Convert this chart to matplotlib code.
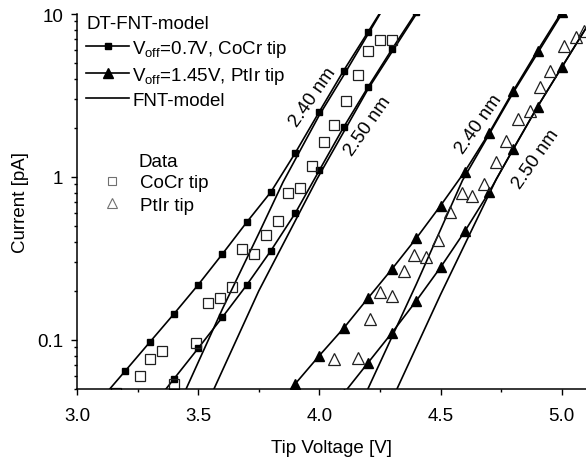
import matplotlib
matplotlib.use("Agg")
import matplotlib.pyplot as plt
from matplotlib.lines import Line2D
from matplotlib.ticker import FixedLocator, NullFormatter

plt.rcParams['font.family'] = ['Liberation Sans', 'DejaVu Sans']
plt.rcParams['mathtext.default'] = 'regular'
plt.rcParams['font.size'] = 13.5

# DT-FNT model, CoCr tip (V_off = 0.7 V)
cocr_v = [3.1, 3.2, 3.3, 3.4, 3.5, 3.6, 3.7, 3.8, 3.9, 4.0, 4.1, 4.2, 4.3]
cocr_240 = [0.0435, 0.0648, 0.0968, 0.1445, 0.218, 0.337, 0.527, 0.809, 1.40, 2.52, 4.49, 7.73, 13.4]
cocr_250_v = [3.3, 3.4, 3.5, 3.6, 3.7, 3.8, 3.9, 4.0, 4.1, 4.2, 4.3, 4.4]
cocr_250 = [0.0374, 0.0577, 0.0889, 0.138, 0.217, 0.353, 0.598, 1.10, 2.02, 3.55, 6.10, 10.3]

# DT-FNT model, PtIr tip (V_off = 1.45 V)
ptir_240_v = [3.8, 3.9, 4.0, 4.1, 4.2, 4.3, 4.4, 4.5, 4.6, 4.7, 4.8, 4.9, 5.0]
ptir_240 = [0.036, 0.0537, 0.0802, 0.118, 0.180, 0.273, 0.421, 0.667, 1.08, 1.86, 3.38, 5.96, 10.3]
ptir_250_v = [4.1, 4.2, 4.3, 4.4, 4.5, 4.6, 4.7, 4.8, 4.9, 5.0, 5.1]
ptir_250 = [0.0469, 0.0722, 0.111, 0.174, 0.279, 0.464, 0.806, 1.49, 2.70, 4.71, 8.2]

# plain FNT model
fnt_cocr_240_v = [3.45, 3.6, 3.75, 3.85, 4.0, 4.1, 4.25]
fnt_cocr_240 = [0.05, 0.155, 0.45, 0.93, 2.4, 4.2, 10.0]
fnt_cocr_250_v = [3.565, 3.75, 3.99, 4.2, 4.4]
fnt_cocr_250 = [0.05, 0.2, 0.97, 3.45, 10.0]
fnt_ptir_240_v = [4.2, 4.4, 4.59, 4.8, 5.0]
fnt_ptir_240 = [0.05, 0.22, 0.95, 3.3, 10.0]
fnt_ptir_250_v = [4.32, 4.5, 4.73, 4.9, 5.1]
fnt_ptir_250 = [0.05, 0.19, 0.97, 2.7, 8.2]

# measured data
data_cocr_v = [3.16, 3.26, 3.30, 3.35, 3.40, 3.49, 3.54, 3.59, 3.64, 3.68, 3.73, 3.78,
               3.83, 3.87, 3.92, 3.97, 4.02, 4.06, 4.11, 4.16, 4.20, 4.25, 4.30]
data_cocr_i = [0.047, 0.0604, 0.0764, 0.0859, 0.0537, 0.0959, 0.169, 0.181, 0.211, 0.361,
               0.337, 0.443, 0.535, 0.797, 0.853, 1.17, 1.65, 2.07, 2.94, 4.22, 5.90, 6.92, 6.92]
data_ptir_v = [4.06, 4.16, 4.21, 4.25, 4.30, 4.35, 4.39, 4.44, 4.49, 4.54, 4.59, 4.63,
               4.68, 4.73, 4.77, 4.82, 4.87, 4.91, 4.95, 5.01, 5.06, 5.09]
data_ptir_i = [0.0764, 0.0776, 0.135, 0.196, 0.185, 0.266, 0.332, 0.321, 0.410, 0.607,
               0.797, 0.759, 0.906, 1.23, 1.67, 2.27, 2.55, 3.55, 4.49, 6.40, 7.19, 7.91]

x_ticks = [3.0, 3.5, 4.0, 4.5, 5.0]
x_labels = ['3.0', '3.5', '4.0', '4.5', '5.0']
y_ticks = [0.1, 1, 10]
y_labels = ['0.1', '1', '10']

fig = plt.figure(figsize=(5.86, 4.6), dpi=100)
ax = fig.add_axes([77 / 586, 1 - 390 / 460, 1 - 77 / 586, 375 / 460])

lw = 1.2
sq = dict(marker='s', ms=5, color='black', lw=lw, mfc='black')
tr = dict(marker='^', ms=6.5, color='black', lw=lw, mfc='black')

ax.plot(cocr_v, cocr_240, **sq)
ax.plot(cocr_250_v, cocr_250, **sq)
ax.plot(ptir_240_v, ptir_240, **tr)
ax.plot(ptir_250_v, ptir_250, markevery=slice(0, -1), **tr)

for v, i in [(fnt_cocr_240_v, fnt_cocr_240), (fnt_cocr_250_v, fnt_cocr_250),
             (fnt_ptir_240_v, fnt_ptir_240), (fnt_ptir_250_v, fnt_ptir_250)]:
    ax.plot(v, i, color='black', lw=lw)

ax.plot(data_cocr_v, data_cocr_i, ls='none', marker='s', ms=7.5, mfc='none',
        mec='#202020', mew=0.9)
ax.plot(data_ptir_v, data_ptir_i, ls='none', marker='^', ms=9, mfc='none',
        mec='#202020', mew=0.9)

# thickness labels
for x, y, s in [(3.973, 3.10, '2.40 nm'), (4.200, 2.08, '2.50 nm'),
                (4.658, 2.14, '2.40 nm'), (4.893, 1.29, '2.50 nm')]:
    ax.text(x, y, s, rotation=55, ha='center', va='center',
            rotation_mode='anchor')

ax.set_yscale('log')
ax.set_xlim(3.0, 5.1)
ax.set_ylim(0.05, 10)
ax.set_xticks(x_ticks, x_labels)
ax.xaxis.set_minor_locator(FixedLocator([3.25, 3.75, 4.25, 4.75]))
ax.set_yticks(y_ticks, y_labels)
ax.yaxis.set_minor_formatter(NullFormatter())
ax.spines['top'].set_visible(False)
ax.spines['right'].set_visible(False)
for s in ['left', 'bottom']:
    ax.spines[s].set_linewidth(1.1)
ax.tick_params(which='major', direction='out', length=4.5, width=1.0)
ax.tick_params(axis='x', which='major', pad=8.5)
ax.tick_params(axis='y', which='major', pad=5.5)
ax.tick_params(which='minor', direction='out', length=2.5, width=1.0)
ax.set_xlabel('Tip Voltage [V]', labelpad=11)
ax.set_ylabel('Current [pA]', labelpad=6)

h1 = [Line2D([], [], **sq), Line2D([], [], **tr), Line2D([], [], color='black', lw=lw)]
l1 = ['V$_{off}$=0.7V, CoCr tip', 'V$_{off}$=1.45V, PtIr tip', 'FNT-model']
leg1 = ax.legend(h1, l1, title='DT-FNT-model', loc='upper left',
                 bbox_to_anchor=(0.018, 0.998), frameon=False, borderpad=0,
                 borderaxespad=0, handlelength=2.3, handletextpad=0.15,
                 labelspacing=0.32, title_fontsize=13.5, alignment='left')
ax.add_artist(leg1)

ax.text(0.12, 0.607, 'Data', transform=ax.transAxes, va='center')
h2 = [Line2D([], [], ls='none', marker='s', ms=5.5, mfc='none', mec='#707070', mew=0.8),
      Line2D([], [], ls='none', marker='^', ms=7, mfc='none', mec='#707070', mew=0.8)]
ax.legend(h2, ['CoCr tip', 'PtIr tip'], loc='upper left',
          bbox_to_anchor=(0.05, 0.573), frameon=False, borderpad=0,
          borderaxespad=0, handlelength=1.0, handletextpad=1.0,
          labelspacing=0.3)

fig.savefig('out.png', dpi=100)
